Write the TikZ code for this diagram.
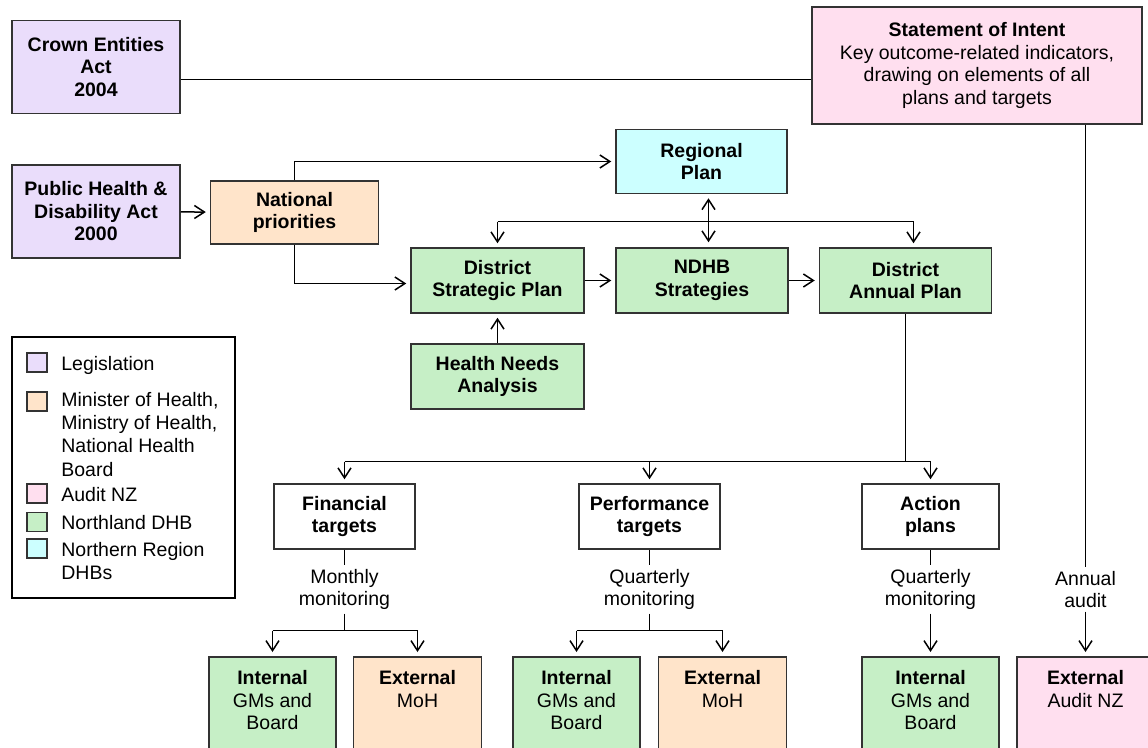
\documentclass[tikz,border=0pt]{standalone}
\usepackage{fontspec}
\setmainfont{Liberation Sans}
\usepackage{tikz}
\usetikzlibrary{arrows.meta, positioning, calc}
\definecolor{clegis}{HTML}{EADDFB}
\definecolor{cmoh}{HTML}{FFE4CA}
\definecolor{caudit}{HTML}{FFDFEF}
\definecolor{cndhb}{HTML}{C6EFC6}
\definecolor{cregion}{HTML}{CCFFFF}
\tikzset{
  basebox/.style={draw=black!80, line width=1.5pt, align=center, inner sep=0pt,
                  font=\fontsize{19.5}{22.5}\selectfont\bfseries},
  legbox/.style={basebox, fill=clegis},
  mohbox/.style={basebox, fill=cmoh},
  audbox/.style={basebox, fill=caudit},
  ndhbbox/.style={basebox, fill=cndhb},
  regbox/.style={basebox, fill=cregion},
  tgtbox/.style={basebox, fill=white},
  outbox/.style={draw=black!80, line width=1.5pt, anchor=north, minimum height=110pt, inner sep=0pt},
  outtext/.style={anchor=north, align=center, inner sep=0pt,
                  font=\fontsize{19.5}{22.5}\selectfont},
  lbl/.style={align=center, inner sep=3pt, font=\fontsize{19.5}{22.5}\selectfont},
  swatch/.style={draw=black!80, line width=1.2pt, minimum width=20pt, minimum height=19pt, inner sep=0pt},
  legtext/.style={anchor=north west, align=left, inner sep=0pt,
                  font=\fontsize{19.5}{23.3}\selectfont},
  arr/.style={->, shorten >=4pt},
}

\begin{document}
\begin{tikzpicture}[x=1pt, y=-1pt, line width=1.5pt, >={Straight Barb[length=10pt,width=13pt]}]
  \clip (0,0) rectangle (1148,747);

  %% ── legislation and national level ──
  \node[legbox, minimum width=168pt, minimum height=93pt] (crown) at (96,67) {Crown Entities\\Act\\2004};
  \node[legbox, minimum width=168pt, minimum height=93pt] (pha) at (96,211.5) {Public Health \&\\Disability Act\\2000};
  \node[mohbox, minimum width=168pt, minimum height=63pt] (natp) at (294.5,212.5) {National\\priorities};
  \node[audbox, font=\fontsize{19.5}{22.5}\selectfont, minimum width=330pt, minimum height=117pt] (soi) at (977,65.5)
    {\textbf{Statement of Intent}\\Key outcome-related indicators,\\drawing on elements of all\\plans and targets};

  %% ── plans ──
  \node[regbox, minimum width=171pt, minimum height=64pt] (reg) at (701.5,161.5) {Regional\\Plan};
  \node[ndhbbox, minimum width=173pt, minimum height=65pt] (dsp) at (497.5,280.5) {District\\Strategic Plan};
  \node[ndhbbox, minimum width=172pt, minimum height=65pt] (ndhb) at (702,280.5) {NDHB\\Strategies};
  \node[ndhbbox, minimum width=172pt, minimum height=65pt] (dap) at (905.5,280.5) {District\\Annual Plan};
  \node[ndhbbox, minimum width=173pt, minimum height=65pt] (hna) at (497.5,376.5) {Health Needs\\Analysis};

  %% ── targets ──
  \node[tgtbox, minimum width=141pt, minimum height=65pt] (fin) at (344.5,516.5) {Financial\\targets};
  \node[tgtbox, minimum width=141pt, minimum height=65pt] (perf) at (649.5,516.5) {Performance\\targets};
  \node[tgtbox, minimum width=137pt, minimum height=65pt] (act) at (930.5,516.5) {Action\\plans};

  %% ── monitoring labels ──
  \node[lbl] (finmon) at (344.5,589.5) {Monthly\\monitoring};
  \node[lbl] (perfmon) at (649.5,589.5) {Quarterly\\monitoring};
  \node[lbl] (actmon) at (930.5,589.5) {Quarterly\\monitoring};
  \node[lbl] (audmon) at (1085.5,589.5) {Annual\\audit};

  %% ── reporting boxes ──
  \node[outbox, fill=cndhb, minimum width=127pt] (int1) at (272.5,656) {};
  \node[outbox, fill=cmoh, minimum width=128pt] (ext1) at (417.5,656) {};
  \node[outbox, fill=cndhb, minimum width=127pt] (int2) at (576.5,656) {};
  \node[outbox, fill=cmoh, minimum width=128pt] (ext2) at (722.5,656) {};
  \node[outbox, fill=cndhb, minimum width=137pt] (int3) at (930.5,656) {};
  \node[outbox, fill=caudit, minimum width=137pt] (exta) at (1085.5,656) {};
  \node[outtext] (int1t) at ([yshift=-14pt]int1.north) {\textbf{Internal}\\GMs and\\Board};
  \node[outtext] (ext1t) at ([yshift=-14pt]ext1.north) {\textbf{External}\\MoH};
  \node[outtext] (int2t) at ([yshift=-14pt]int2.north) {\textbf{Internal}\\GMs and\\Board};
  \node[outtext] (ext2t) at ([yshift=-14pt]ext2.north) {\textbf{External}\\MoH};
  \node[outtext] (int3t) at ([yshift=-14pt]int3.north) {\textbf{Internal}\\GMs and\\Board};
  \node[outtext] (extat) at ([yshift=-14pt]exta.north) {\textbf{External}\\Audit NZ};

  %% ── connectors, upper part ──
  \draw ([yshift=-12.5pt]crown.east) -- ([yshift=-12.5pt]crown.east -| soi.west);
  \draw[arr] (pha) -- (natp);
  \draw[arr] (natp.north) |- (reg.west);
  \draw[arr] (natp.south) |- ([yshift=-3pt]dsp.west);
  \draw[arr] (hna.north) -- (dsp.south);
  \draw[arr] (dsp) -- (ndhb);
  \draw[arr] (ndhb) -- (dap);
  \coordinate (rbus) at (708.5,221.5);
  \coordinate (dapin) at ([xshift=8pt]dap.north);
  \draw (rbus -| dsp.north) -- (rbus -| dapin);
  \draw[arr] (rbus -| dsp.north) -- (dsp.north);
  \draw[arr] (rbus -| dapin) -- (dapin);
  \draw[<->, shorten <=4pt, shorten >=5pt] ([xshift=7pt]reg.south) -- ([xshift=7pt]reg.south |- ndhb.north);

  %% ── connectors, lower part ──
  \coordinate (tbus) at (905.5,461.5);
  \draw (dap.south) -- (tbus);
  \draw (tbus -| fin.north) -- (tbus -| act.north);
  \foreach \t in {fin, perf, act}
    \draw[arr] (tbus -| \t.north) -- (\t.north);

  \draw (fin.south) -- (finmon.north);
  \coordinate (fbus) at (344.5,630.5);
  \draw (finmon.south) -- (fbus);
  \draw (fbus -| int1.north) -- (fbus -| ext1.north);
  \draw[arr] (fbus -| int1.north) -- (int1.north);
  \draw[arr] (fbus -| ext1.north) -- (ext1.north);

  \draw (perf.south) -- (perfmon.north);
  \coordinate (pbus) at (649.5,630.5);
  \draw (perfmon.south) -- (pbus);
  \draw (pbus -| int2.north) -- (pbus -| ext2.north);
  \draw[arr] (pbus -| int2.north) -- (int2.north);
  \draw[arr] (pbus -| ext2.north) -- (ext2.north);

  \draw (act.south) -- (actmon.north);
  \draw[arr] (actmon.south) -- (int3.north);

  \draw (soi.south -| audmon.north) -- (audmon.north);
  \draw[arr] (audmon.south) -- (exta.north);

  %% ── legend ──
  \node[draw, line width=1.5pt, minimum width=223pt, minimum height=261pt, inner sep=0pt] (legend) at (123.5,467.5) {};
  \node[swatch, fill=clegis] (swleg) at (37,362.5) {};
  \node[swatch, fill=cmoh] (swmoh) at (37,401.5) {};
  \node[swatch, fill=caudit] (swaud) at (37,493.5) {};
  \node[swatch, fill=cndhb] (swndhb) at (37,522) {};
  \node[swatch, fill=cregion] (swreg) at (37,548.5) {};
  \node[legtext] (txleg) at ([xshift=13pt,yshift=-3pt]swleg.north east) {Legislation};
  \node[legtext] (txmoh) at ([xshift=13pt,yshift=0pt]swmoh.north east) {Minister of Health,\\Ministry of Health,\\National Health\\Board};
  \node[legtext] (txaud) at ([xshift=13pt,yshift=-3pt]swaud.north east) {Audit NZ};
  \node[legtext] (txndhb) at ([xshift=13pt,yshift=-3pt]swndhb.north east) {Northland DHB};
  \node[legtext] (txreg) at ([xshift=13pt,yshift=-3pt]swreg.north east) {Northern Region\\DHBs};
\end{tikzpicture}
\end{document}
